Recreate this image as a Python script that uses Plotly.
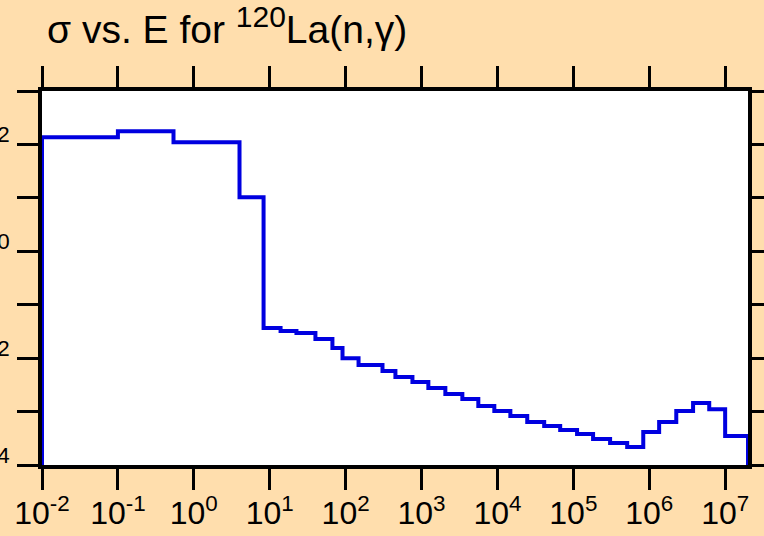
import numpy as np
import plotly.graph_objects as go

# Group edges (eV) and group cross sections (b)
energy_edges = [1e-2, 0.1, 0.54, 4.0, 8.3, 13.9, 22.5, 40.0, 67.0, 91.0, 148.0,
                306.0, 453.0, 759.0, 1230.0, 2060.0, 3450.0, 5600.0, 9100.0,
                1.48e4, 2.47e4, 4.13e4, 6.71e4, 1.12e5, 1.82e5, 3.05e5, 5.12e5,
                8.34e5, 1.35e6, 2.27e6, 3.78e6, 6.17e6, 1.0e7, 2.0e7]
sigma = [136.0, 176.0, 110.0, 10.3, 0.0365, 0.0321, 0.0294, 0.0227, 0.0154,
         0.0100, 0.00741, 0.00573, 0.00443, 0.00356, 0.00275, 0.00213, 0.00171,
         0.00127, 0.00102, 0.000824, 0.000637, 0.000536, 0.000451, 0.000380,
         0.000306, 0.000258, 0.000217, 0.000414, 0.000637, 0.00102, 0.00144,
         0.00111, 0.000348]

x_tickvals = [1e-2, 1e-1, 1e0, 1e1, 1e2, 1e3, 1e4, 1e5, 1e6, 1e7]
x_ticktext = ['10<sup>-2</sup>', '10<sup>-1</sup>', '10<sup>0</sup>', '10<sup>1</sup>',
              '10<sup>2</sup>', '10<sup>3</sup>', '10<sup>4</sup>', '10<sup>5</sup>',
              '10<sup>6</sup>', '10<sup>7</sup>']
y_tickvals = [1e-4, 1e-3, 1e-2, 1e-1, 1e0, 1e1, 1e2, 1e3]
y_ticktext = ['10<sup>-4</sup>', '', '10<sup>-2</sup>', '', '10<sup>0</sup>', '',
              '10<sup>2</sup>', '']

# histogram outline: rise from below at first edge, drop at last edge
floor = 1e-6
xs = [energy_edges[0]] + energy_edges
ys = [floor] + sigma + [floor]

bg = '#FFDEAD'
font = 'Liberation Sans, Arial, sans-serif'

fig = go.Figure()
fig.add_trace(go.Scatter(
    x=xs, y=ys, mode='lines', line_shape='hv',
    line=dict(color='#0000e0', width=4),
    showlegend=False
))

axis_common = dict(
    type='log', showgrid=False, zeroline=False, automargin=False,
    showline=True, linecolor='black', linewidth=4,
    ticks='outside', ticklen=21, tickwidth=3, tickcolor='black',
    mirror='ticks', tickmode='array', ticklabeloverflow='allow',
    tickfont=dict(family=font, size=32, color='black'),
)

fig.update_xaxes(range=[-2, np.log10(2e7)], tickvals=x_tickvals, ticktext=x_ticktext,
                 ticklabelstandoff=-4, **axis_common)
fig.update_yaxes(range=[-4, 3], tickvals=y_tickvals, ticktext=y_ticktext,
                 ticklabelstandoff=1, **axis_common)

fig.update_layout(
    width=764, height=536,
    margin=dict(l=42, r=16, t=91, b=71),
    paper_bgcolor=bg, plot_bgcolor='white',
    title=dict(text='σ vs. E for <sup><span style="font-size:30px">120</span></sup>La(n,γ)',
               font=dict(family=font, size=39, color='black'),
               xref='container', x=47 / 764, xanchor='left',
               yref='container', y=1 - 16 / 536, yanchor='top'),
)

# drop the default page margin so the figure sits at the window's corner
fig.write_html('out.html', config={'displayModeBar': False},
               post_script="document.body.style.margin='0';")
